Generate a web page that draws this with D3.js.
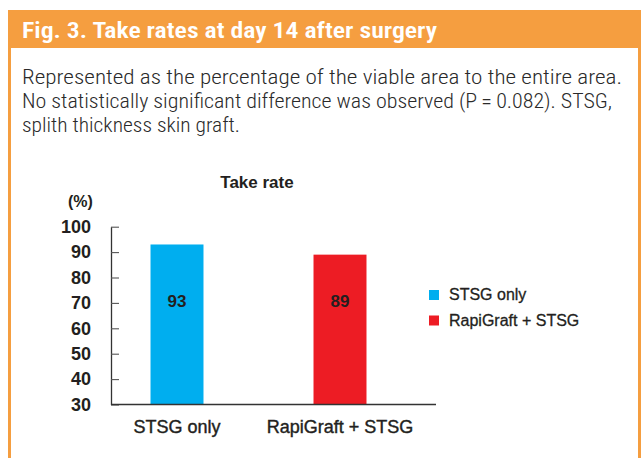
<!DOCTYPE html>
<html><head><meta charset="utf-8">
<script src="https://cdn.jsdelivr.net/npm/d3@7"></script>
<style>
html,body{margin:0;padding:0;background:#fff;}
svg{display:block;}
</style></head>
<body>
<script>
const categories = ["STSG only", "RapiGraft + STSG"];
const values = [93, 89];
const colors = ["#00AEEF", "#ED1C24"];
const yTicks = [30, 40, 50, 60, 70, 80, 90, 100];
const titleText = "Fig. 3. Take rates at day 14 after surgery";
const captionLines = [
  "Represented as the percentage of the viable area to the entire area.",
  "No statistically significant difference was observed (P\u2009=\u20090.082). STSG,",
  "splith thickness skin graft."
];
const chartTitle = "Take rate";
const unitLabel = "(%)";

const W = 643, H = 458;
const svg = d3.select("body").append("svg").attr("width", W).attr("height", H);
const orange = "#F59E40";
const ink = "#231F20";

// frame
svg.append("rect").attr("x", 8).attr("y", 10).attr("width", 633).attr("height", 38).attr("fill", orange);
svg.append("line").attr("x1", 9.5).attr("x2", 9.5).attr("y1", 10).attr("y2", H).attr("stroke", orange).attr("stroke-width", 3);
svg.append("line").attr("x1", 639.5).attr("x2", 639.5).attr("y1", 10).attr("y2", H).attr("stroke", orange).attr("stroke-width", 3);

svg.append("text").attr("x", 22).attr("y", 38)
  .attr("font-family", "'Roboto Condensed','Open Sans',sans-serif")
  .attr("font-weight", 600).attr("font-size", 22).attr("fill", "#fff")
  .attr("textLength", 415).attr("lengthAdjust", "spacingAndGlyphs")
  .text(titleText);

const capLens = [600, 590, 218];
captionLines.forEach((t, i) => {
  svg.append("text").attr("x", 22).attr("y", 84 + i * 24)
    .attr("font-family", "'Roboto Condensed',Roboto,sans-serif")
    .attr("font-weight", 300)
    .attr("font-size", 20).attr("fill", "#2a2a2a")
    .attr("textLength", capLens[i]).attr("lengthAdjust", "spacingAndGlyphs")
    .text(t);
});

// scales
const y = d3.scaleLinear().domain([30, 100]).range([404.5, 226.7]);
const x = d3.scaleBand().domain(categories).range([95.5, 421.5]).paddingInner(0.675).paddingOuter(0.3375);
const color = d3.scaleOrdinal().domain(categories).range(colors);

const fontMain = "'Liberation Sans',Arial,sans-serif";

// bars
svg.selectAll("rect.bar").data(categories).enter().append("rect")
  .attr("class", "bar")
  .attr("x", d => x(d)).attr("width", x.bandwidth())
  .attr("y", (d, i) => y(values[i])).attr("height", (d, i) => y(30) - y(values[i]))
  .attr("fill", d => color(d));

svg.selectAll("text.val").data(categories).enter().append("text")
  .attr("class", "val")
  .attr("x", d => x(d) + x.bandwidth() / 2).attr("y", 307)
  .attr("text-anchor", "middle").attr("font-family", fontMain).attr("font-weight", "bold")
  .attr("font-size", 17).attr("fill", ink)
  .text((d, i) => values[i]);

// y axis
const yAxis = d3.axisLeft(y).tickValues(yTicks).tickSizeInner(-8).tickSizeOuter(0).tickPadding(20).tickFormat(d3.format("d"));
const gy = svg.append("g").attr("transform", "translate(111,0)").call(yAxis);
gy.select(".domain").attr("stroke", "#333").attr("stroke-width", 1.3);
gy.selectAll(".tick line").attr("stroke", "#555").attr("stroke-width", 1.1);
gy.selectAll(".tick text").attr("font-family", fontMain).attr("font-weight", "bold")
  .attr("font-size", 18).attr("fill", ink);

// x axis
const xAxis = d3.axisBottom(x).tickSize(0).tickPadding(16);
const gx = svg.append("g").attr("transform", "translate(0,404.5)").call(xAxis);
gx.select(".domain").remove();
svg.append("line").attr("x1", 111).attr("x2", 436).attr("y1", 404.5).attr("y2", 404.5)
  .attr("stroke", "#333").attr("stroke-width", 1.3);
gx.selectAll(".tick text").attr("font-family", fontMain).attr("font-weight", "normal")
  .attr("font-size", 18).attr("fill", ink).attr("dy", "0.72em")
  .style("paint-order", "stroke").attr("stroke", ink).attr("stroke-width", 0.4);

// titles
svg.append("text").attr("x", 257).attr("y", 188).attr("text-anchor", "middle")
  .attr("font-family", fontMain).attr("font-weight", "bold").attr("font-size", 17).attr("fill", ink)
  .text(chartTitle);
svg.append("text").attr("x", 68).attr("y", 207)
  .attr("font-family", fontMain).attr("font-weight", "bold").attr("font-size", 16).attr("fill", ink)
  .text(unitLabel);

// legend
const leg = svg.append("g").attr("transform", "translate(429,290)");
categories.forEach((c, i) => {
  const g = leg.append("g").attr("transform", `translate(0,${i * 25.5})`);
  g.append("rect").attr("width", 10).attr("height", 10).attr("fill", color(c));
  g.append("text").attr("x", 20).attr("y", 10)
    .attr("font-family", fontMain).attr("font-size", 16).attr("fill", ink)
    .style("paint-order", "stroke").attr("stroke", ink).attr("stroke-width", 0.3)
    .text(c);
});
</script>
</body></html>
